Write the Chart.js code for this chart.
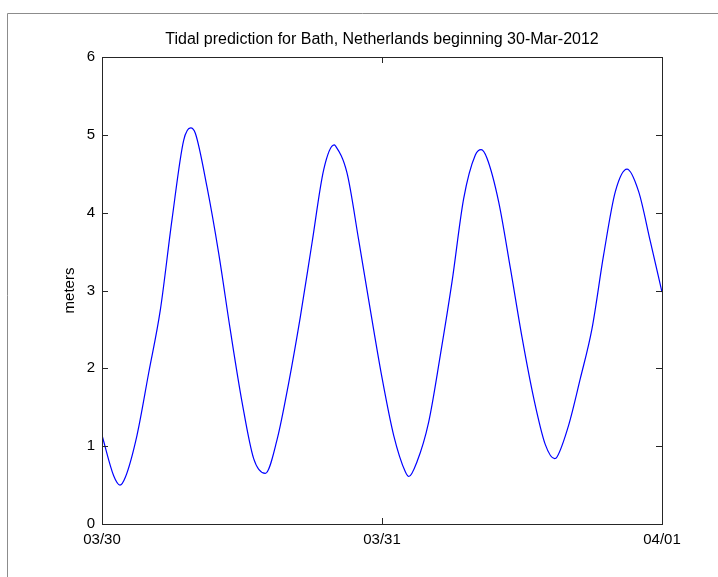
<!DOCTYPE html>
<html>
<head>
<meta charset="utf-8">
<title>Tidal prediction</title>
<script src="https://cdn.jsdelivr.net/npm/chart.js@4/dist/chart.umd.min.js"></script>
<style>
  html, body { margin: 0; padding: 0; background: #fff; }
  canvas { display: block; }
</style>
</head>
<body>
<canvas id="tide" width="718" height="577"></canvas>
<script>
// ── Data (hours after 30-Mar-2012 00:00, water level in meters) ──
const hours = [
  0, 1, 1.54, 2, 3, 4, 5, 6, 7, 7.6, 8, 9, 10, 11, 12,
  13, 14, 15, 16, 17, 18, 19, 19.9, 20, 21, 22, 23, 24,
  25, 26, 26.3, 27, 28, 29, 30, 31, 32, 32.5, 33, 34, 35, 36,
  37, 38, 38.8, 39, 40, 41, 42, 43, 44, 45, 46, 47, 48
];
const levels = [
  1.14, 0.62, 0.50, 0.60, 1.14, 1.94, 2.75, 3.91, 4.93, 5.09, 5.02, 4.33, 3.48, 2.49, 1.57,
  0.84, 0.65, 1.08, 1.81, 2.66, 3.61, 4.55, 4.87, 4.86, 4.51, 3.65, 2.75, 1.88,
  1.14, 0.67, 0.61, 0.80, 1.31, 2.17, 3.11, 4.18, 4.74, 4.81, 4.70, 4.14, 3.29, 2.40,
  1.62, 1.02, 0.84, 0.86, 1.27, 1.87, 2.51, 3.46, 4.27, 4.56, 4.27, 3.63, 2.98
];
const dateLabels = ['03/30', '03/31', '04/01'];
const yTicks = [0, 1, 2, 3, 4, 5, 6];

const FONT = 'Liberation Sans, Arial, Helvetica, sans-serif';
const INK  = '#262626';

// ── Plugins: outer frame, axes box and inward ticks (MATLAB look) ──
const frame = {
  id: 'frame',
  beforeDraw(chart) {
    const ctx = chart.ctx;
    ctx.save();
    ctx.strokeStyle = '#8c8c8c';
    ctx.lineWidth = 1;
    ctx.beginPath();
    ctx.moveTo(7.5, chart.height);
    ctx.lineTo(7.5, 13.5);
    ctx.lineTo(chart.width, 13.5);
    ctx.stroke();
    ctx.restore();
  }
};

const axesBox = {
  id: 'axesBox',
  afterDraw(chart) {
    const { ctx, chartArea: a, scales: { x, y } } = chart;
    const len = 6;
    ctx.save();
    ctx.strokeStyle = INK;
    ctx.lineWidth = 1;
    ctx.strokeRect(Math.round(a.left) + 0.5, Math.round(a.top) + 0.5,
                   Math.round(a.right - a.left), Math.round(a.bottom - a.top));
    ctx.beginPath();
    yTicks.forEach(v => {
      const py = Math.round(y.getPixelForValue(v)) + 0.5;
      ctx.moveTo(a.left, py); ctx.lineTo(a.left + len, py);
      ctx.moveTo(a.right, py); ctx.lineTo(a.right - len, py);
    });
    dateLabels.forEach((_, i) => {
      const px = Math.round(x.getPixelForValue(i * 24)) + 0.5;
      ctx.moveTo(px, a.bottom); ctx.lineTo(px, a.bottom - len);
      ctx.moveTo(px, a.top); ctx.lineTo(px, a.top + len);
    });
    ctx.stroke();
    ctx.restore();
  }
};

new Chart(document.getElementById('tide'), {
  type: 'line',
  data: {
    datasets: [{
      data: hours.map((h, i) => ({ x: h, y: levels[i] })),
      borderColor: '#0000ff',
      borderWidth: 1.2,
      pointRadius: 0,
      cubicInterpolationMode: 'monotone',
      fill: false
    }]
  },
  options: {
    responsive: false,
    animation: false,
    layout: { padding: { left: 0, right: 56, top: 0, bottom: 0 } },
    plugins: {
      legend: { display: false },
      tooltip: { enabled: false }
    },
    scales: {
      // top axis only carries the title, so it is centred over the plot box
      top: {
        type: 'linear',
        position: 'top',
        min: 0,
        max: 48,
        grid: { display: false, drawTicks: false },
        border: { display: false },
        ticks: { display: false },
        title: {
          display: true,
          text: 'Tidal prediction for Bath, Netherlands beginning 30-Mar-2012',
          color: '#000',
          font: { family: FONT, size: 16 },
          padding: { top: 30, bottom: 0 }
        },
        afterFit: s => { s.height = 57; }
      },
      x: {
        type: 'linear',
        position: 'bottom',
        min: 0,
        max: 48,
        grid: { display: false, drawTicks: false },
        border: { display: false },
        ticks: {
          stepSize: 24,
          color: '#000',
          padding: 7,
          maxRotation: 0,
          font: { family: FONT, size: 15 },
          callback: v => dateLabels[v / 24]
        },
        afterFit: s => { s.height = 53; }
      },
      y: {
        min: 0,
        max: 6,
        grid: { display: false, drawTicks: false },
        border: { display: false },
        ticks: {
          stepSize: 1,
          color: '#000',
          padding: 7,
          font: { family: FONT, size: 15 }
        },
        title: {
          display: true,
          text: 'meters',
          color: '#000',
          font: { family: FONT, size: 15 },
          padding: { top: 61, bottom: 0 }
        },
        afterFit: s => { s.width = 102; }
      }
    }
  },
  plugins: [frame, axesBox]
});
</script>
</body>
</html>
